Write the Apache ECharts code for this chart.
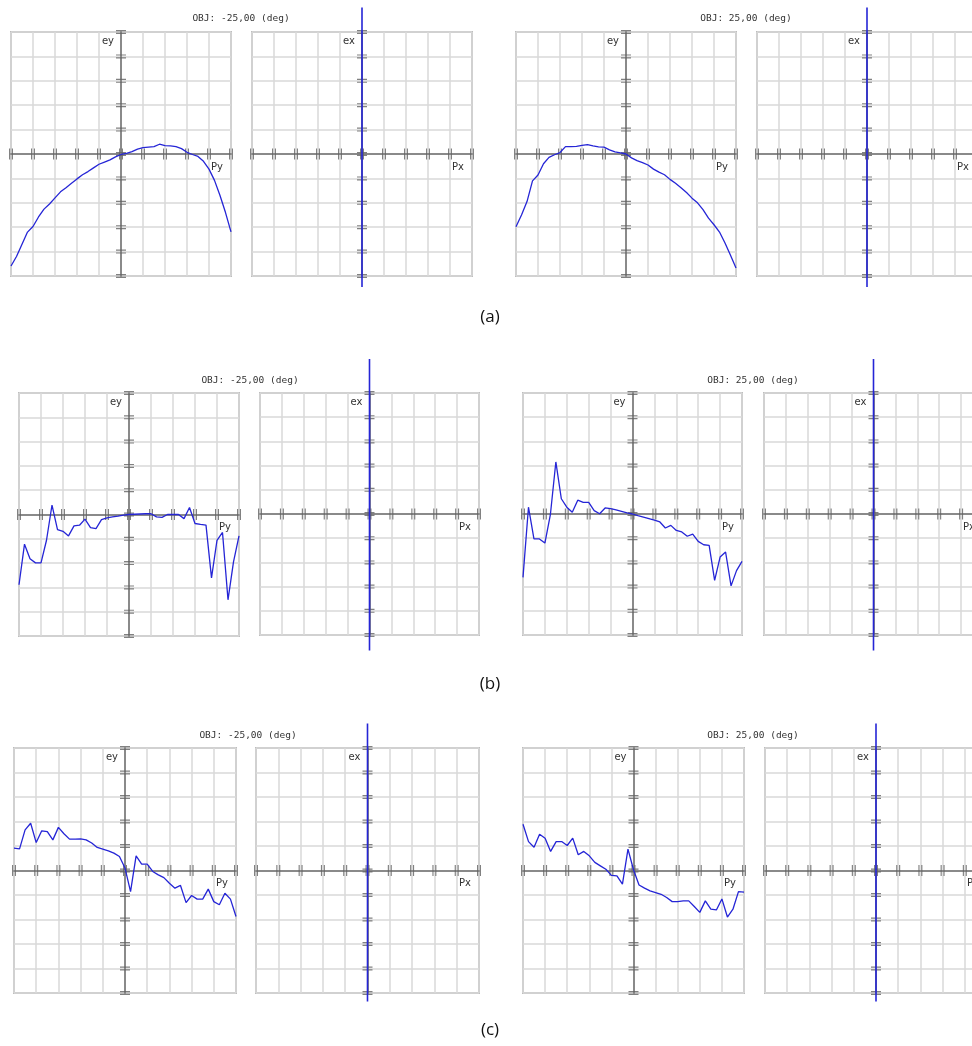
<!DOCTYPE html>
<html>
<head>
<meta charset="utf-8">
<script src="https://cdn.jsdelivr.net/npm/echarts/dist/echarts.min.js"></script>
<style>
html,body{margin:0;padding:0;background:#fff;}
#chart{width:972px;height:1046px;}
</style>
</head>
<body>
<div id="chart"></div>
<script>
// ---------- DATA ----------
const PX = [-5,-4.75,-4.5,-4.25,-4,-3.75,-3.5,-3.25,-3,-2.75,-2.5,-2.25,-2,-1.75,-1.5,-1.25,-1,-0.75,-0.5,-0.25,0,0.25,0.5,0.75,1,1.25,1.5,1.75,2,2.25,2.5,2.75,3,3.25,3.5,3.75,4,4.25,4.5,4.75,5];

const EY_A_NEG = [-4.59,-4.2,-3.7,-3.2,-2.97,-2.58,-2.26,-2.05,-1.8,-1.55,-1.38,-1.2,-1.02,-0.85,-0.72,-0.57,-0.42,-0.33,-0.24,-0.12,-0.02,0.03,0.1,0.2,0.26,0.28,0.3,0.4,0.34,0.33,0.3,0.22,0.07,-0.02,-0.1,-0.3,-0.62,-1.08,-1.7,-2.4,-3.19];
const EY_A_POS = [-2.98,-2.5,-1.95,-1.1,-0.86,-0.4,-0.14,-0.03,0.06,0.3,0.3,0.31,0.35,0.38,0.33,0.29,0.28,0.17,0.09,0.05,0,-0.16,-0.27,-0.35,-0.45,-0.62,-0.74,-0.85,-1.04,-1.2,-1.38,-1.58,-1.81,-2.0,-2.28,-2.63,-2.9,-3.2,-3.65,-4.15,-4.67];
const EY_B_NEG = [-2.89,-1.22,-1.82,-1.99,-1.99,-1.06,0.39,-0.62,-0.69,-0.88,-0.47,-0.44,-0.19,-0.54,-0.58,-0.21,-0.14,-0.10,-0.07,-0.03,0,0.01,0.02,0.03,0.03,-0.1,-0.12,0,0,0,-0.17,0.29,-0.37,-0.41,-0.44,-2.61,-1.06,-0.74,-3.51,-1.95,-0.88];
const EY_B_POS = [-2.62,0.28,-1.03,-1.03,-1.2,-0.03,2.15,0.63,0.28,0.07,0.57,0.48,0.48,0.14,0.01,0.25,0.22,0.17,0.11,0.05,0,-0.07,-0.13,-0.19,-0.25,-0.33,-0.58,-0.47,-0.68,-0.74,-0.92,-0.83,-1.13,-1.27,-1.30,-2.74,-1.78,-1.57,-2.97,-2.34,-1.96];
const EY_C_NEG = [0.91,0.88,1.66,1.93,1.14,1.62,1.59,1.25,1.76,1.5,1.28,1.28,1.29,1.25,1.12,0.94,0.87,0.8,0.71,0.57,0.1,-0.86,0.6,0.26,0.26,-0.04,-0.18,-0.29,-0.52,-0.72,-0.61,-1.31,-1.02,-1.17,-1.17,-0.76,-1.27,-1.40,-0.93,-1.17,-1.88];
const EY_C_POS = [1.89,1.18,0.95,1.48,1.32,0.78,1.18,1.18,1.02,1.32,0.64,0.78,0.6,0.33,0.19,0.05,-0.2,-0.22,-0.56,0.87,0.03,-0.59,-0.72,-0.83,-0.9,-0.97,-1.1,-1.27,-1.27,-1.24,-1.24,-1.47,-1.71,-1.24,-1.58,-1.61,-1.16,-1.9,-1.58,-0.86,-0.88];

// ex vs Px: vertical trace at Px = 0 (ends)
const EX_PX = [0, 0];
const EX_A = [6.0, -5.45];
const EX_B = [6.4, -5.64];
const EX_C = [6.0, -5.35];

const TICKS = [-5,-4,-3,-2,-1,0,1,2,3,4,5];
const OBJ_TITLES = ['OBJ: -25,00 (deg)', 'OBJ: 25,00 (deg)'];
const ROW_LABELS = ['(a)', '(b)', '(c)'];

// ---------- LAYOUT ----------
const ROWS = [
  { titleY: 19, titleX: [241, 746], labelY: 317,
    grids: [{l:11,t:32,w:220,h:244},{l:252,t:32,w:220,h:244},{l:516,t:32,w:220,h:244},{l:757,t:32,w:220,h:244}],
    ey: [EY_A_NEG, EY_A_POS], ex: EX_A },
  { titleY: 381, titleX: [250, 753], labelY: 684,
    grids: [{l:19,t:393,w:220,h:243},{l:260,t:393,w:219,h:242},{l:523,t:393,w:219,h:242},{l:764,t:393,w:219,h:242}],
    ey: [EY_B_NEG, EY_B_POS], ex: EX_B },
  { titleY: 736, titleX: [248, 753], labelY: 1030,
    grids: [{l:14,t:748,w:222,h:245},{l:256,t:748,w:223,h:245},{l:523,t:748,w:221,h:245},{l:765,t:748,w:222,h:245}],
    ey: [EY_C_NEG, EY_C_POS], ex: EX_C }
];

const XTICK = 'path://M0 0h1.2v10h-1.2z M3 0h1.2v10h-1.2z';
const YTICK = 'path://M0 0h10v1.2h-10z M0 3h10v1.2h-10z';
const BLUE = '#2525d6';

const grid = [], xAxis = [], yAxis = [], series = [], graphic = [];
let gi = 0;
ROWS.forEach((row, r) => {
  row.grids.forEach((g, c) => {
    const isEy = (c % 2 === 0);
    grid.push({ left: g.l, top: g.t, width: g.w, height: g.h, show: true,
      borderColor: '#bdbdbd', borderWidth: 2, backgroundColor: 'transparent',
      containLabel: false, outerBoundsMode: 'none' });
    const axisCommon = {
      type: 'value', min: -5, max: 5, interval: 1, gridIndex: gi,
      axisLabel: { show: false }, axisTick: { show: false },
      axisLine: { show: true, onZero: true, lineStyle: { color: '#8a8a8a', width: 2 } },
      splitLine: { show: true, lineStyle: { color: '#d9d9d9', width: 1.5 } }
    };
    xAxis.push(Object.assign({}, axisCommon));
    yAxis.push(Object.assign({}, axisCommon));
    series.push({ type: 'scatter', xAxisIndex: gi, yAxisIndex: gi, silent: true, clip: false, z: 3,
      symbol: XTICK, symbolSize: [4, 11], itemStyle: { color: '#626262' },
      data: TICKS.map(t => [t, 0]) });
    series.push({ type: 'scatter', xAxisIndex: gi, yAxisIndex: gi, silent: true, clip: false, z: 3,
      symbol: YTICK, symbolSize: [10, 4], itemStyle: { color: '#626262' },
      data: TICKS.map(t => [0, t]) });
    if (isEy) {
      const ey = row.ey[c / 2];
      series.push({ type: 'line', xAxisIndex: gi, yAxisIndex: gi, silent: true, clip: false, z: 5,
        showSymbol: false, symbol: 'none', lineStyle: { color: BLUE, width: 1.3 },
        data: PX.map((x, i) => [x, ey[i]]) });
    } else {
      series.push({ type: 'line', xAxisIndex: gi, yAxisIndex: gi, silent: true, clip: false, z: 5,
        showSymbol: false, symbol: 'none', lineStyle: { color: BLUE, width: 1.6 },
        data: EX_PX.map((x, i) => [x, row.ex[i]]) });
    }
    const cx = g.l + g.w / 2, cy = g.t + g.h / 2;
    graphic.push({ type: 'text', silent: true, z: 10, style: {
      text: isEy ? 'ey' : 'ex', x: cx - 7, y: g.t + 4, align: 'right', verticalAlign: 'top',
      font: '10px "DejaVu Sans"', fill: '#333' } });
    graphic.push({ type: 'text', silent: true, z: 10, style: {
      text: isEy ? 'Py' : 'Px', x: g.l + g.w - 8, y: cy + 8, align: 'right', verticalAlign: 'top',
      font: '10px "DejaVu Sans"', fill: '#333' } });
    gi++;
  });
  row.titleX.forEach((tx, k) => {
    graphic.push({ type: 'text', silent: true, style: {
      text: OBJ_TITLES[k], x: tx, y: row.titleY, align: 'center', verticalAlign: 'middle',
      font: '9.5px "DejaVu Sans Mono"', fill: '#333' } });
  });
  graphic.push({ type: 'text', silent: true, style: {
    text: ROW_LABELS[r], x: 490, y: row.labelY, align: 'center', verticalAlign: 'middle',
    font: '17px "Open Sans"', fill: '#111' } });
});

const chart = echarts.init(document.getElementById('chart'), null, { renderer: 'canvas' });
chart.setOption({ animation: false, backgroundColor: '#fff', grid, xAxis, yAxis, series, graphic });
</script>
</body>
</html>
